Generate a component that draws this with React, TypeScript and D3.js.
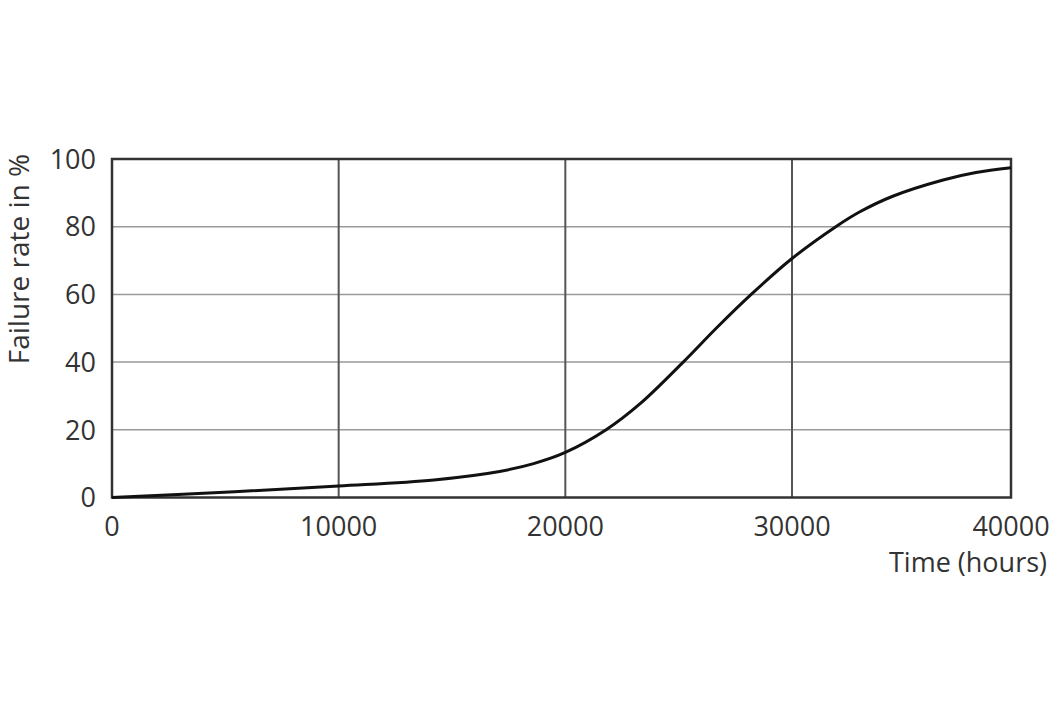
import React from "react";
import * as d3 from "d3";

// failure curve
const hours = [0, 5400, 10000, 14200, 17100, 18600, 20000, 21800, 23300, 25200, 26700, 28200, 30000, 32000, 33100, 34600, 36900, 38400, 40000];
const failure = [0, 1.7, 3.4, 5.2, 7.7, 10.0, 13.3, 20, 27.7, 40, 50.3, 60, 70.6, 80, 84.4, 89.0, 93.8, 96.0, 97.4];
const xTicks = [0, 10000, 20000, 30000, 40000];
const yTicks = [0, 20, 40, 60, 80, 100];

const W = 1050;
const H = 720;
const left = 112;
const right = 1011;
const top = 159;
const bottom = 497.5;

export default function App() {
  // the original grid is slightly uneven, so the scale is piecewise
  const x = d3.scaleLinear().domain([0, 30000, 40000]).range([left, 792, right]);
  const y = d3.scaleLinear().domain([0, 100]).range([bottom, top]);
  const points = hours.map((h, i) => [h, failure[i]] as [number, number]);
  const line = d3
    .line<[number, number]>()
    .x((d) => x(d[0]))
    .y((d) => y(d[1]))
    .curve(d3.curveCatmullRom.alpha(0.5));
  const font = "'Open Sans', 'DejaVu Sans', sans-serif";

  return (
    <svg width={W} height={H} style={{ position: "absolute", left: 0, top: 0, background: "#fff" }}>
      {yTicks.slice(1, -1).map((t) => (
        <line key={"h" + t} x1={left} x2={right} y1={y(t)} y2={y(t)} stroke="#9a9a9a" strokeWidth={1.5} />
      ))}
      {xTicks.slice(1, -1).map((t) => (
        <line key={"v" + t} x1={x(t)} x2={x(t)} y1={top} y2={bottom} stroke="#555" strokeWidth={2} />
      ))}
      <rect x={left} y={top} width={right - left} height={bottom - top} fill="none" stroke="#333" strokeWidth={2.5} />
      <path d={line(points) || ""} fill="none" stroke="#111" strokeWidth={3} />
      {yTicks.map((t) => (
        <text key={"yl" + t} x={96} y={y(t)} dy="0.36em" textAnchor="end" fontSize={27} fontFamily={font} fill="#333">
          {t}
        </text>
      ))}
      {xTicks.map((t) => (
        <text key={"xl" + t} x={x(t)} y={536} textAnchor="middle" fontSize={27} fontFamily={font} fill="#333">
          {t}
        </text>
      ))}
      <text x={1047} y={572} textAnchor="end" fontSize={27} fontFamily={font} fill="#333">
        Time (hours)
      </text>
      <text
        transform={`translate(29, 259) rotate(-90)`}
        textAnchor="middle"
        fontSize={28}
        fontFamily={font}
        fill="#333"
      >
        Failure rate in %
      </text>
    </svg>
  );
}
